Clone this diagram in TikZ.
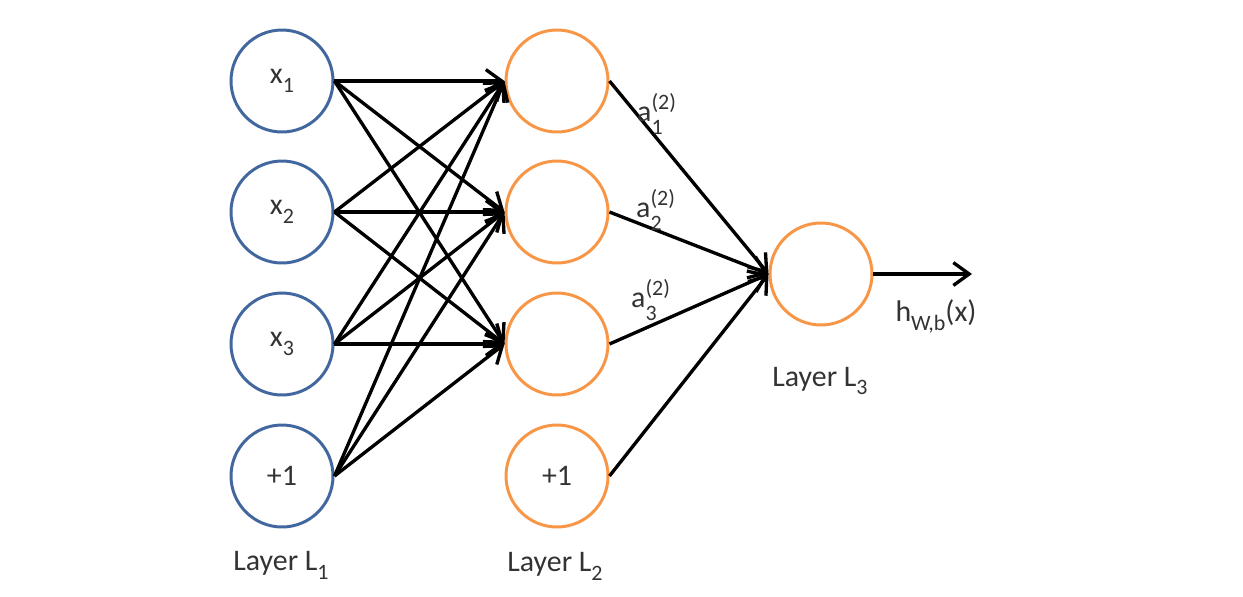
\documentclass[tikz,border=0pt]{standalone}
\usepackage{fontspec}
\setmainfont{Carlito}
\usetikzlibrary{arrows.meta}
\definecolor{inblue}{HTML}{41679E}
\definecolor{hidorange}{HTML}{F79646}
\definecolor{txtgray}{HTML}{333333}
\newcommand\lo[2][0.3em]{\raisebox{-#1}{\fontsize{12.5}{14}\selectfont #2}}
\newcommand\hi[2][0.4em]{\raisebox{#1}{\fontsize{12.5}{14}\selectfont #2}}
\newcommand\act[1]{a\rlap{\hi{(2)}}\lo[0.45em]{#1}\phantom{(2}}
\begin{document}
\begin{tikzpicture}[x=0.02cm,y=-0.02cm,
  neuron/.style={circle,draw,line width=1.7pt,minimum size=2.04cm,inner sep=0pt,
    font=\fontsize{17}{20}\selectfont,text=txtgray},
  inneuron/.style={neuron,draw=inblue},
  hidneuron/.style={neuron,draw=hidorange},
  link/.style={line width=1.9pt,-{Straight Barb[length=9pt,width=13pt]}},
  lbl/.style={inner sep=0pt,font=\fontsize{17}{20}\selectfont,text=txtgray}]
\useasboundingbox (0,0) rectangle (1243,596);

% layer 1
\node[inneuron] (x1) at (282,81) {x\lo{1}};
\node[inneuron] (x2) at (282,212) {x\lo{2}};
\node[inneuron] (x3) at (282,344) {x\lo{3}};
\node[inneuron] (b1) at (282,476) {+1};
% layer 2
\node[hidneuron] (h1) at (557,81) {};
\node[hidneuron] (h2) at (557,212) {};
\node[hidneuron] (h3) at (557,344) {};
\node[hidneuron] (b2) at (557,476) {+1};
% layer 3
\node[hidneuron] (out) at (821,274) {};
\coordinate (end) at (972,274);

\foreach \s in {x1,x2,x3,b1} {
\foreach \t in {h1,h2,h3} {
\draw[link] (\s.east) -- (\t.west);}}
\foreach \s in {h1,h2,h3,b2} {
\draw[link] (\s.east) -- (out.west);}
\draw[link] (out.east) -- (end);

\node[lbl] (a1) at (662,114) {\act{1}};
\node[lbl] (a2) at (661,210) {\act{2}};
\node[lbl] (a3) at (656,300) {\act{3}};
\node[lbl] (hx) at (936,316) {h\lo{W,b}(x)};

\node[lbl] (l1) at (281,565) {Layer L\lo{1}};
\node[lbl] (l2) at (555,566) {Layer L\lo{2}};
\node[lbl] (l3) at (820,381) {Layer L\lo{3}};
\end{tikzpicture}
\end{document}
